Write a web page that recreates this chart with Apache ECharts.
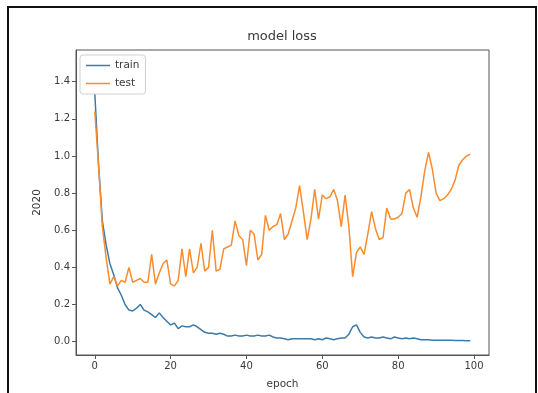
<!DOCTYPE html>
<html>
<head>
<meta charset="UTF-8">
<title>model loss</title>
<style>
  html, body { margin: 0; padding: 0; background: #fff; }
  #chart { width: 538px; height: 393px; }
</style>
<script src="https://cdn.jsdelivr.net/npm/echarts@6/dist/echarts.min.js"></script>
</head>
<body>
<div id="chart"></div>
<script>
// epochs 0..99
var epochs = [];
for (var i = 0; i < 100; i++) epochs.push(i);

var trainLoss = [
  1.34, 0.95, 0.65, 0.52, 0.42, 0.36, 0.29, 0.25, 0.20, 0.17,
  0.165, 0.18, 0.20, 0.17, 0.16, 0.145, 0.13, 0.155, 0.13, 0.11,
  0.09, 0.10, 0.07, 0.085, 0.08, 0.08, 0.09, 0.08, 0.065, 0.05,
  0.045, 0.045, 0.04, 0.045, 0.04, 0.03, 0.03, 0.035, 0.03, 0.03,
  0.035, 0.03, 0.03, 0.035, 0.03, 0.03, 0.035, 0.025, 0.02, 0.02,
  0.015, 0.01, 0.015, 0.015, 0.015, 0.015, 0.015, 0.015, 0.01, 0.015,
  0.01, 0.02, 0.015, 0.01, 0.015, 0.02, 0.02, 0.04, 0.08, 0.09,
  0.05, 0.025, 0.02, 0.025, 0.02, 0.02, 0.025, 0.02, 0.015, 0.025,
  0.02, 0.015, 0.02, 0.015, 0.02, 0.015, 0.01, 0.01, 0.01, 0.008,
  0.008, 0.008, 0.007, 0.007, 0.007, 0.006, 0.006, 0.006, 0.005, 0.005
];

var testLoss = [
  1.24, 0.95, 0.62, 0.45, 0.31, 0.35, 0.30, 0.33, 0.32, 0.40,
  0.32, 0.33, 0.34, 0.32, 0.32, 0.47, 0.31, 0.37, 0.42, 0.44,
  0.31, 0.30, 0.33, 0.50, 0.35, 0.50, 0.37, 0.40, 0.53, 0.38,
  0.40, 0.60, 0.38, 0.39, 0.50, 0.51, 0.52, 0.65, 0.57, 0.55,
  0.41, 0.60, 0.58, 0.44, 0.47, 0.68, 0.60, 0.62, 0.63, 0.69,
  0.55, 0.58, 0.65, 0.72, 0.84, 0.70, 0.55, 0.66, 0.82, 0.66,
  0.79, 0.77, 0.78, 0.82, 0.76, 0.62, 0.79, 0.62, 0.35, 0.48,
  0.51, 0.47, 0.58, 0.70, 0.61, 0.55, 0.56, 0.72, 0.66, 0.66,
  0.67, 0.69, 0.80, 0.82, 0.72, 0.67, 0.78, 0.92, 1.02, 0.93,
  0.80, 0.76, 0.77, 0.79, 0.82, 0.87, 0.95, 0.98, 1.00, 1.01
];

var xTicks = [0, 20, 40, 60, 80, 100];
var yTicks = [0, 0.2, 0.4, 0.6, 0.8, 1.0, 1.2, 1.4];

function pairs(ys) {
  return epochs.map(function (e, i) { return [e, ys[i]]; });
}

var textColor = '#3a3a3a';
var spineColor = '#555';
var trainColor = '#3a7bab';
var testColor = '#f98c2e';

var chart = echarts.init(document.getElementById('chart'), null, { renderer: 'canvas' });
chart.setOption({
  animation: false,
  backgroundColor: '#fff',
  textStyle: { fontFamily: 'DejaVu Sans' },
  title: {
    text: 'model loss',
    left: 282, top: 30, padding: 0,
    textAlign: 'center',
    textStyle: { fontSize: 13, fontWeight: 'normal', color: textColor, fontFamily: 'DejaVu Sans' }
  },
  graphic: [{
    type: 'rect',
    shape: { x: 8, y: 7, width: 528, height: 420 },
    style: { fill: 'none', stroke: '#111', lineWidth: 2 },
    silent: true
  }],
  legend: {
    orient: 'vertical',
    left: 80, top: 55,
    padding: [4, 6],
    icon: 'rect',
    itemWidth: 24, itemHeight: 1.5, itemGap: 5,
    borderColor: '#d0d0d0', borderWidth: 1, borderRadius: 3,
    backgroundColor: '#fff',
    textStyle: { fontSize: 10.5, color: textColor, fontFamily: 'DejaVu Sans', lineHeight: 13 },
    data: ['train', 'test']
  },
  grid: {
    left: 76, right: 49, top: 50, bottom: 38,
    containLabel: false, outerBoundsMode: 'none',
    show: true, borderColor: spineColor, borderWidth: 1, backgroundColor: 'transparent'
  },
  xAxis: {
    type: 'value',
    min: -4.95, max: 103.95,
    name: 'epoch', nameLocation: 'middle', nameGap: 24,
    nameTextStyle: { fontSize: 10.5, color: textColor },
    splitLine: { show: false },
    axisLine: { show: true, onZero: false, lineStyle: { color: spineColor } },
    axisTick: { show: true, length: 4, lineStyle: { color: spineColor }, customValues: xTicks },
    axisLabel: { fontSize: 10, color: textColor, margin: 6, customValues: xTicks }
  },
  yAxis: {
    type: 'value',
    min: -0.072, max: 1.571,
    name: '2020', nameLocation: 'middle', nameGap: 30,
    nameTextStyle: { fontSize: 10.5, color: textColor },
    splitLine: { show: false },
    axisLine: { show: true, onZero: false, lineStyle: { color: spineColor } },
    axisTick: { show: true, length: 4, lineStyle: { color: spineColor }, customValues: yTicks },
    axisLabel: {
      fontSize: 10, color: textColor, margin: 6, customValues: yTicks,
      formatter: function (v) { return v.toFixed(1); }
    }
  },
  series: [{
    name: 'train', type: 'line', data: pairs(trainLoss),
    symbol: 'none', lineStyle: { width: 1.5, color: trainColor }, itemStyle: { color: trainColor }
  }, {
    name: 'test', type: 'line', data: pairs(testLoss),
    symbol: 'none', lineStyle: { width: 1.5, color: testColor }, itemStyle: { color: testColor }
  }]
});
</script>
</body>
</html>
